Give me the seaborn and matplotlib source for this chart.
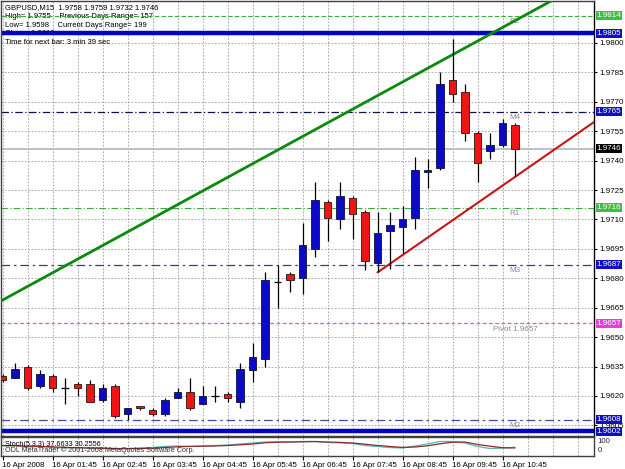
import matplotlib
matplotlib.use("Agg")
import matplotlib.pyplot as plt
import matplotlib.transforms as mtransforms
import seaborn as sns
import numpy as np
import pandas as pd

sns.set_theme(style="white")
plt.rcParams['font.family'] = ['Liberation Sans', 'DejaVu Sans']

# ---------------- data ----------------
bar_index = list(range(42))
opens = [1.9630, 1.9629, 1.9635, 1.9625, 1.9630, 1.9624, 1.9626, 1.9626, 1.9618, 1.9625,
         1.9611, 1.9615, 1.9613, 1.9611, 1.9619, 1.9622, 1.9616, 1.9620, 1.9621, 1.9617,
         1.9633, 1.9639, 1.9678, 1.9682, 1.9680, 1.9695, 1.9719, 1.9710, 1.9721, 1.9714,
         1.9688, 1.9704, 1.9706, 1.9711, 1.9734, 1.9736, 1.9781, 1.9775, 1.9754, 1.9745,
         1.9748, 1.9758]
highs = [1.9631, 1.9637, 1.9636, 1.9633, 1.9631, 1.9629, 1.9627, 1.9628, 1.9626, 1.9626,
         1.9614, 1.9615, 1.9614, 1.9619, 1.9624, 1.9629, 1.9625, 1.9625, 1.9622, 1.9637,
         1.9647, 1.9683, 1.9687, 1.9683, 1.9708, 1.9729, 1.9720, 1.9729, 1.9722, 1.9715,
         1.9714, 1.9714, 1.9717, 1.9742, 1.9741, 1.9785, 1.9802, 1.9779, 1.9755, 1.9754,
         1.9761, 1.9759]
lows = [1.9627, 1.9629, 1.9623, 1.9624, 1.9622, 1.9616, 1.9620, 1.9617, 1.9617, 1.9609,
        1.9608, 1.9613, 1.9610, 1.9610, 1.9619, 1.9613, 1.9616, 1.9617, 1.9617, 1.9614,
        1.9627, 1.9635, 1.9665, 1.9673, 1.9672, 1.9691, 1.9699, 1.9705, 1.9700, 1.9684,
        1.9683, 1.9685, 1.9693, 1.9705, 1.9726, 1.9735, 1.9770, 1.9750, 1.9729, 1.9741,
        1.9747, 1.9732]
closes = [1.9628, 1.9634, 1.9624, 1.9631, 1.9624, 1.9624, 1.9624, 1.9617, 1.9624, 1.9610,
          1.9614, 1.9614, 1.9611, 1.9618, 1.9622, 1.9614, 1.9620, 1.9620, 1.9619, 1.9634,
          1.9640, 1.9679, 1.9678, 1.9679, 1.9697, 1.9720, 1.9711, 1.9722, 1.9713, 1.9689,
          1.9703, 1.9707, 1.9710, 1.9735, 1.9735, 1.9779, 1.9774, 1.9754, 1.9739, 1.9748,
          1.9759, 1.9746]

stoch_main = [50, 55, 40, 45, 35, 30, 35, 25, 30, 20,
              25, 30, 35, 45, 50, 45, 50, 55, 60, 70,
              80, 90, 92, 90, 95, 96, 85, 82, 75, 55,
              45, 35, 30, 50, 70, 95, 95, 80, 45, 25,
              28, 37.66]
stoch_signal = [55, 52, 48, 46, 42, 36, 33, 30, 28, 25,
                24, 25, 28, 35, 42, 46, 48, 50, 55, 62,
                70, 82, 88, 90, 92, 94, 90, 86, 80, 68,
                55, 45, 36, 40, 52, 72, 88, 90, 65, 48,
                33, 30.26]

price_ticks = [1.9605, 1.9620, 1.9635, 1.9650, 1.9665, 1.9680, 1.9695, 1.9710,
               1.9725, 1.9740, 1.9755, 1.9770, 1.9785, 1.9800]
time_label_bars = [0, 4, 8, 12, 16, 20, 24, 28, 32, 36, 40]
time_labels = ["16 Apr 2008", "16 Apr 01:45", "16 Apr 02:45", "16 Apr 03:45",
               "16 Apr 04:45", "16 Apr 05:45", "16 Apr 06:45", "16 Apr 07:45",
               "16 Apr 08:45", "16 Apr 09:45", "16 Apr 10:45"]

level_prices = [1.9814, 1.9805, 1.9765, 1.9746, 1.9716, 1.9687, 1.9657, 1.9608, 1.9602]
level_names = ["R2", "", "M4", "", "R1", "M3", "Pivot 1.9657", "M2", ""]

green_trend_bars = [0, 40]
green_trend_prices = [1.96689, 1.98079]
red_trend_bars = [30, 41]
red_trend_prices = [1.9683, 1.97317]

info_lines = ["GBPUSD,M15  1.9758 1.9759 1.9732 1.9746",
              "High= 1.9755    Previous Days Range= 157",
              "Low= 1.9598    Current Days Range= 199",
              "Close= 1.9610",
              "Time for next bar: 3 min 39 sec"]

# ---------------- styles ----------------
level_styles = [
    dict(color="#3aaa3a", lw=0.8, ls=(0, (4, 2)), box="#44bb44"),
    dict(color="#0000c8", lw=3.2, ls="-", box="#1010c0"),
    dict(color="#101050", lw=0.9, ls=(0, (6, 2, 1, 2)), box="#1010c0"),
    dict(color="#b4bcc4", lw=1.3, ls="-", box="#000000"),
    dict(color="#3aaa3a", lw=0.8, ls=(0, (6, 2, 1, 2)), box="#44bb44"),
    dict(color="#3c3c8c", lw=0.9, ls=(0, (7, 3, 2, 3)), box="#1010c0"),
    dict(color="#dd55dd", lw=0.9, ls=(0, (3, 2)), box="#e040e0"),
    dict(color="#4848a0", lw=0.9, ls=(0, (7, 3, 2, 3)), box="#1010c0"),
    dict(color="#0000c8", lw=3.2, ls="-", box="#1010c0"),
]

W, H = 625, 469
fig = plt.figure(figsize=(W / 100, H / 100), dpi=100, facecolor="white")
ax = fig.add_axes([1 / W, (H - 436) / H, 593 / W, 435 / H])
ax2 = fig.add_axes([1 / W, (H - 456) / H, 593 / W, 19 / H], sharex=ax)

xmin, xmax = -0.12, 47.32
ax.set_xlim(xmin, xmax)
ax.set_ylim(1.95996, 1.98214)
ax.set_facecolor("white")
ax2.set_facecolor("white")

# grid
grid_kw = dict(color="#9a9a9a", lw=0.6, ls=(0, (2, 2)), zorder=0)
for gx in range(0, 48, 2):
    ax.axvline(gx, **grid_kw)
    ax2.axvline(gx, **grid_kw)
for gy in price_ticks:
    ax.axhline(gy, **grid_kw)

# info text (under the levels)
for k, line in enumerate(info_lines):
    ax.text(4 / 593, 1 - (7 + 8.6 * k) / 435, line, transform=ax.transAxes,
            fontsize=5.5, color="black", va="center", ha="left", zorder=1)

# levels
trans = mtransforms.blended_transform_factory(ax.transAxes, ax.transData)
for p, name, st in zip(level_prices, level_names, level_styles):
    ax.axhline(p, color=st["color"], lw=st["lw"], ls=st["ls"], zorder=2)
    if name:
        ax.text(41, p - 0.00012, name, fontsize=5.8, color="#8a8a8a",
                ha="center", va="top", zorder=3)

# trend lines (rays through the two anchors)
def ray(bars, prices, both):
    s = (prices[1] - prices[0]) / (bars[1] - bars[0])
    xs = [xmin - 1, xmax + 1] if both else [bars[0], xmax + 1]
    return xs, [prices[0] + s * (x - bars[0]) for x in xs]

gx_, gy_ = ray(green_trend_bars, green_trend_prices, True)
rx_, ry_ = ray(red_trend_bars, red_trend_prices, False)
sns.lineplot(x=gx_, y=gy_, ax=ax, color="#0b8a0b", lw=2.0, zorder=4, sort=False)
sns.lineplot(x=rx_, y=ry_, ax=ax, color="#c81414", lw=1.5, zorder=4, sort=False)

# candles
df = pd.DataFrame(dict(i=bar_index, o=opens, h=highs, l=lows, c=closes))
ax.vlines(df["i"], df["l"], df["h"], color="black", lw=0.9, zorder=5)
up = df[df["c"] > df["o"]]
dn = df[df["c"] < df["o"]]
dj = df[df["c"] == df["o"]]
ax.bar(up["i"], up["c"] - up["o"], bottom=up["o"], width=0.62,
       color="#0a0ac8", edgecolor="#101030", lw=0.6, zorder=6)
ax.bar(dn["i"], dn["o"] - dn["c"], bottom=dn["c"], width=0.62,
       color="#f01414", edgecolor="#301010", lw=0.6, zorder=6)
ax.hlines(dj["o"], dj["i"] - 0.31, dj["i"] + 0.31, color="black", lw=0.9, zorder=6)

# right price axis
ax.set_yticks(price_ticks)
ax.set_yticklabels([f"{t:.4f}" for t in price_ticks])
ax.yaxis.tick_right()
ax.tick_params(axis="y", right=True, left=False, labelright=True, labelleft=False,
               length=2.5, width=0.8, labelsize=5.8, pad=1.2, colors="black")
ax.tick_params(axis="x", bottom=False, labelbottom=False)
for p, st in zip(level_prices, level_styles):
    ax.text(1.0045, p, f"{p:.4f}", transform=trans, fontsize=5.8, color="white",
            ha="left", va="center", zorder=10, clip_on=False,
            bbox=dict(boxstyle="square,pad=0.12", fc=st["box"], ec="none"))

for a in (ax, ax2):
    for sp in a.spines.values():
        sp.set_color("#404040")
        sp.set_linewidth(1.0)
ax.spines["right"].set_color("black")

# stochastic panel
ax2.set_ylim(-50, 140)
sns.lineplot(x=bar_index, y=stoch_main, ax=ax2, color="#5ab8b0", lw=0.9, zorder=3)
sns.lineplot(x=bar_index, y=stoch_signal, ax=ax2, color="#8b2a2a", lw=0.9, zorder=3)
ax2.set_yticks([])
ax2.set_ylabel("")
ax.set_ylabel("")
t2 = mtransforms.blended_transform_factory(ax2.transAxes, ax2.transData)
ax2.text(1.006, 100, "100", transform=t2, fontsize=5.6, ha="left", va="center", clip_on=False)
ax2.text(1.006, 10, "0", transform=t2, fontsize=5.6, ha="left", va="center", clip_on=False)
ax2.text(4 / 593, 0.62, "Stoch(5,3,3) 37.6633 30.2556", transform=ax2.transAxes,
         fontsize=5.2, color="black", ha="left", va="center", zorder=5)
ax2.text(4 / 593, 0.3, "ODL MetaTrader © 2001-2008 MetaQuotes Software Corp.",
         transform=ax2.transAxes, fontsize=5.2, color="#303030", ha="left", va="center", zorder=5)

ax2.set_xticks(time_label_bars)
ax2.set_xticklabels(time_labels, ha="left")
ax2.tick_params(axis="x", bottom=True, length=3, width=0.8, labelsize=5.7, pad=1.5, colors="black")
ax2.set_xlabel("")
ax.set_xlabel("")

fig.savefig("out.png", dpi=100, facecolor="white")
